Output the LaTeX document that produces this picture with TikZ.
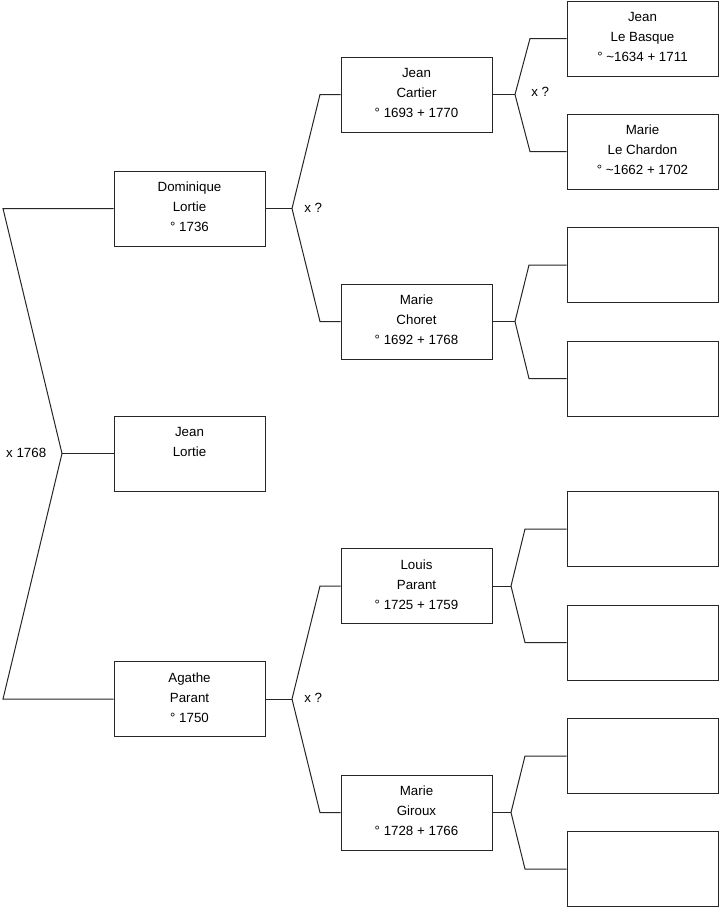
\documentclass[tikz,border=0pt]{standalone}
\usepackage{fontspec}
\setmainfont{Liberation Sans}
\newcommand\ptxt[1]{\raisebox{0.6pt}[\height][\depth]{\begin{tabular}{@{}c@{}}#1\end{tabular}}}
\begin{document}
\begin{tikzpicture}[x=0.75pt,y=-0.75pt,
  person/.style={draw=black!85, line width=0.75pt, minimum width=113.25pt, minimum height=56.25pt,
    inner sep=0pt, font=\fontsize{10}{15}\selectfont, fill=white},
  lbl/.style={font=\fontsize{10}{12}\selectfont, inner sep=0pt},
  link/.style={line width=0.75pt, draw=black!85}]
\useasboundingbox (0,0) rectangle (719,908);
\fill[white] (0,0) rectangle (719,908);

% generation 1
\node[person] (jl) at (189.5,453.5) {\ptxt{Jean\\Lortie\\\mbox{}}};
% generation 2
\node[person] (dom) at (189.5,208.5) {\ptxt{Dominique\\Lortie\\° 1736}};
\node[person] (ag) at (189.5,699) {\ptxt{Agathe\\Parant\\° 1750}};
% generation 3
\node[person] (jc) at (416.5,94.5) {\ptxt{Jean\\Cartier\\° 1693 + 1770}};
\node[person] (mc) at (416.5,321.5) {\ptxt{Marie\\Choret\\° 1692 + 1768}};
\node[person] (lp) at (416.5,586) {\ptxt{Louis\\Parant\\° 1725 + 1759}};
\node[person] (mg) at (416.5,812.5) {\ptxt{Marie\\Giroux\\° 1728 + 1766}};
% generation 4
\node[person] (jb) at (642.5,38.5) {\ptxt{Jean\\Le Basque\\° \textasciitilde1634 + 1711}};
\node[person] (mlc) at (642.5,151.5) {\ptxt{Marie\\Le Chardon\\° \textasciitilde1662 + 1702}};
\node[person] (e1) at (642.5,265) {};
\node[person] (e2) at (642.5,378.5) {};
\node[person] (e3) at (642.5,529) {};
\node[person] (e4) at (642.5,642.5) {};
\node[person] (e5) at (642.5,756) {};
\node[person] (e6) at (642.5,869) {};

% fork points and elbow columns
\coordinate (f0) at (62,453.5);  \coordinate (k0) at (3,0);
\coordinate (f1) at (292,208.5); \coordinate (k1) at (320,0);
\coordinate (f2) at (292,699);
\coordinate (f3) at (515,94.5);  \coordinate (k3) at (530,0);
\coordinate (f4) at (515,321.5); \coordinate (k4) at (529,0);
\coordinate (f5) at (511,586);   \coordinate (k5) at (525,0);
\coordinate (f6) at (511,812.5);

\draw[link] (jl.west) -- (f0);
\draw[link] (f0) -- (dom.west -| k0) -- (dom.west);
\draw[link] (f0) -- (ag.west -| k0) -- (ag.west);
\node[lbl, anchor=east] (m0) at (46.5,452.5) {x 1768};

\draw[link] (dom.east) -- (f1);
\draw[link] (f1) -- (jc.west -| k1) -- (jc.west);
\draw[link] (f1) -- (mc.west -| k1) -- (mc.west);
\node[lbl, anchor=west] (m1) at (304,208) {x ?};

\draw[link] (ag.east) -- (f2);
\draw[link] (f2) -- (lp.west -| k1) -- (lp.west);
\draw[link] (f2) -- (mg.west -| k1) -- (mg.west);
\node[lbl, anchor=west] (m2) at (304,698) {x ?};

\draw[link] (jc.east) -- (f3);
\draw[link] (f3) -- (jb.west -| k3) -- (jb.west);
\draw[link] (f3) -- (mlc.west -| k3) -- (mlc.west);
\node[lbl, anchor=west] (m3) at (531,92) {x ?};

\draw[link] (mc.east) -- (f4);
\draw[link] (f4) -- (e1.west -| k4) -- (e1.west);
\draw[link] (f4) -- (e2.west -| k4) -- (e2.west);

\draw[link] (lp.east) -- (f5);
\draw[link] (f5) -- (e3.west -| k5) -- (e3.west);
\draw[link] (f5) -- (e4.west -| k5) -- (e4.west);

\draw[link] (mg.east) -- (f6);
\draw[link] (f6) -- (e5.west -| k5) -- (e5.west);
\draw[link] (f6) -- (e6.west -| k5) -- (e6.west);
\end{tikzpicture}
\end{document}
